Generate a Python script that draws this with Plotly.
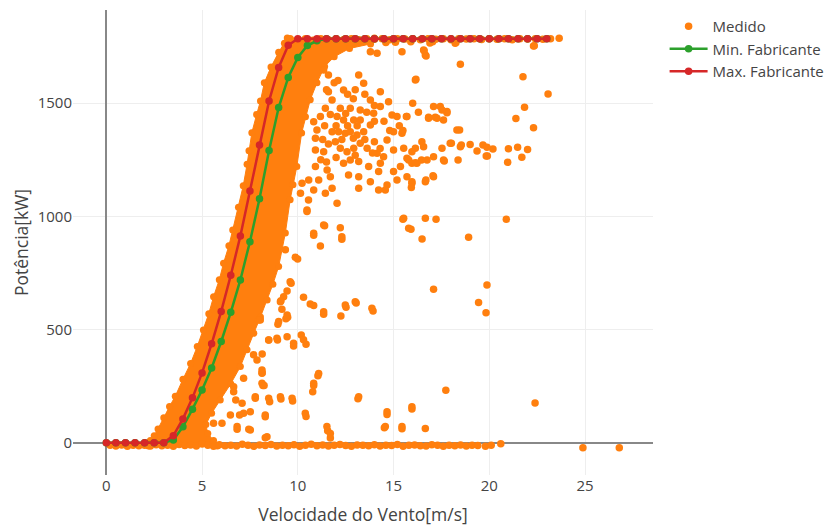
import plotly.graph_objects as go

# ---------------- data ----------------
# manufacturer curves (0.5 m/s steps, 0 .. 23 m/s)
wind_curve = [i * 0.5 for i in range(47)]
power_max = [0, 0, 0, 0, 0, 0, 0, 31, 105, 198, 308, 437, 580, 740, 913, 1112,
             1315, 1510, 1658, 1756, 1785] + [1785] * 26
power_min = [0, 0, 0, 0, 0, 0, 0, 12, 70, 148, 233, 330, 447, 576, 719, 888,
             1078, 1291, 1481, 1614, 1702, 1755, 1776] + [1785] * 24

# outline of the dense band of measured points (wind m/s, power kW)
band_wind = [2.2, 2.3, 2.5, 2.7, 3.0, 3.3, 3.6, 4.0, 4.4, 4.75, 5.07, 5.35, 5.6, 5.9,
             6.12, 6.4, 6.6, 6.9, 7.15, 7.35, 7.45, 7.6, 7.85, 8.05, 8.25, 8.6, 9.0,
             9.3, 9.45,
             14.0, 13.8, 12.7, 11.9, 11.4, 11.0, 10.65, 10.4, 10.2, 9.95, 9.75, 9.6,
             9.35, 9.0, 8.7, 8.4, 8.05, 7.7, 7.35, 7.0, 6.5, 5.95, 5.5, 5.2, 5.3,
             5.6, 5.8]
band_power = [-15, 10, 30, 60, 110, 160, 205, 280, 350, 425, 498, 570, 645, 720,
              793, 870, 940, 1040, 1135, 1230, 1290, 1370, 1450, 1510, 1590, 1660,
              1725, 1765, 1788,
              1788, 1762, 1742, 1705, 1662, 1590, 1515, 1440, 1368, 1220, 1140,
              1073, 926, 778, 700, 630, 555, 483, 410, 336, 260, 189, 130, 80, 40,
              10, -15]

# individual measured points outside the dense band
wind_pts = [
    # cluster above 1000 kW
    11.35, 11.6, 13.18, 13.44, 13.79, 14.14, 15.44, 16.57, 16.66, 16.14, 11.6, 12.39,
    11.79, 11.44, 11.18, 10.83, 12.22, 12.74, 13.26, 13.79, 14.31, 14.74, 14.31, 13.96,
    14.92, 15.18, 15.7, 17.09, 17.44, 17.79, 16.83, 17.27, 17.61, 18.31, 17.96, 17.53,
    17.09, 16.75, 16.57, 16.14, 15.96, 15.7, 15.96, 16.22, 17.09, 16.66, 15.53, 15.44,
    15.0, 14.66, 15.0, 14.48, 14.14, 13.62, 13.26, 12.92, 12.57, 12.22, 11.96, 11.79,
    12.13, 12.48, 12.74, 13.09, 13.44, 13.79, 12.39, 12.05, 12.92, 13.26, 11.0, 10.92,
    10.92, 11.35, 10.92, 11.53, 11.7, 11.09, 10.57, 10.22, 10.83, 11.44, 12.05, 10.56,
    10.48, 10.14, 12.39, 12.65, 13.18, 13.18, 13.7, 14.31, 14.22, 15.0, 15.18, 14.66,
    14.57, 14.22, 15.7, 15.96, 13.79, 13.18, 11.79, 12.74,
    11.5, 11.9, 12.1, 12.6, 12.9, 13.0, 13.5, 11.7, 12.5, 13.6, 14.0, 13.1, 12.6, 12.0,
    11.4, 11.3, 11.6, 12.3, 12.9, 13.5, 14.0, 14.3, 13.9, 13.0, 12.0, 11.5, 11.2, 14.5,
    14.0, 15.3, 14.8, 16.3, 16.0,
    # right-hand points
    18.22, 18.49, 22.31, 21.76, 23.07, 17.79, 18.45, 21.84, 21.39, 22.31, 18.02, 18.49,
    19.0, 19.36, 19.67, 20.19, 19.88, 19.84, 21.0, 21.48, 22.0, 21.7, 20.96, 17.65,
    18.37, 20.89, 17.53, 16.83, 17.18, 15.67, 15.49, 16.48, 18.54, 19.9, 17.61, 16.46,
    15.79, 16.14, 15.36, 15.96, 16.69, 17.06, 15.93, 16.17, 16.6, 16.7, 18.26, 17.04,
    22.35,
    # middle and lower points
    10.48, 11.4, 12.22, 12.3, 10.83, 11.18, 9.35, 9.99, 15.49, 16.66, 17.22, 15.91,
    16.49, 17.09, 9.65, 9.44, 9.26, 9.12, 9.17, 9.47, 9.38, 8.96, 10.3, 10.65, 10.83,
    11.35, 12.25, 12.52, 13.05, 13.93, 10.18, 10.3, 10.43, 9.44, 8.94, 8.48, 9.78, 8.14,
    8.14, 8.18, 11.05, 10.83, 10.78, 8.53, 9.12, 9.73, 13.14, 17.73, 8.3, 10.43, 11.56,
    11.7, 14.66, 15.96, 14.52, 15.44, 16.66, 8.3,
    18.92, 19.88, 19.44, 19.83, 22.39, 24.89, 26.79,
    9.6, 9.0, 9.44, 8.91, 7.95, 9.78, 7.87, 8.13, 8.13, 8.48, 7.78, 7.17, 6.65, 6.76,
    7.17, 6.83, 8.3, 7.52, 9.09, 9.7, 10.39, 10.83, 11.09, 11.52, 11.7, 13.18, 14.66,
    14.57, 15.44, 15.96, 15.53, 15.79, 10.83, 11.35, 12.3, 9.87, 11.35, 12.48, 13.0,
    13.87,
    9.09, 8.04, 8.48, 7.69, 8.13, 8.24, 6.65, 7.09, 7.78, 7.52, 6.48, 6.96, 6.04, 6.83,
    7.44, 8.39, 5.6,
]
power_pts = [
    1647, 1625, 1625, 1588, 1728, 1721, 1728, 1735, 1713, 1603, 1551, 1559,
    1514, 1478, 1441, 1418, 1478, 1478, 1470, 1514, 1551, 1507, 1485, 1456,
    1448, 1441, 1441, 1485, 1485, 1463, 1434, 1434, 1426, 1382, 1323, 1301,
    1264, 1249, 1308, 1301, 1286, 1257, 1235, 1235, 1175, 1153, 1301, 1367,
    1374, 1338, 1293, 1264, 1279, 1301, 1323, 1301, 1286, 1301, 1330, 1374,
    1374, 1367, 1374, 1360, 1374, 1404, 1426, 1441, 1426, 1426, 1382, 1345,
    1293, 1286, 1220, 1205, 1175, 1161, 1161, 1146, 1117, 1102, 1058, 1072,
    1028, 1102, 1235, 1183, 1175, 1242, 1220, 1235, 1198, 1198, 1161, 1139,
    1117, 1117, 1175, 1146, 1153, 1124, 1124, 1249,
    1560, 1590, 1600, 1540, 1520, 1560, 1540, 1450, 1455, 1460, 1490, 1400, 1400, 1400,
    1400, 1340, 1320, 1340, 1345, 1340, 1330, 1300, 1280, 1270, 1260, 1240, 1250, 1420,
    1420, 1400, 1380, 1460, 1500,
    1765, 1672, 1753, 1617, 1541, 1458, 1382, 1482, 1432, 1392, 1323, 1308,
    1318, 1289, 1315, 1298, 1305, 1267, 1299, 1305, 1296, 1261, 1239, 1245,
    1249, 987, 1470, 1438, 1438, 1441, 1379, 1330, 1315, 1267, 1249, 1249,
    1249, 1237, 1220, 1153, 1161, 1180, 1128, 1606, 1732, 1709, 1768, 1772,
    1754,
    1021, 958, 950, 899, 916, 869, 852, 812, 987, 992, 987, 943,
    900, 678, 704, 670, 645, 627, 589, 554, 547, 523, 643, 613, 606,
    567, 560, 598, 617, 582, 476, 455, 435, 468, 454, 454, 427, 392,
    309, 252, 296, 252, 225, 181, 193, 184, 194, 231, 114, 115, 53,
    21, 124, 149, 66, 61, 62, 22,
    908, 697, 619, 574, 175, -23, -23,
    711, 535, 564, 461, 542, 439, 365, 321, 262, 196, 203, 285, 225, 189,
    130, 71, 122, 56, 203, 196, 130, 262, 306, 71, 40, 203, 137,
    71, 71, 159, 992, 947, 925, 962, 910, 819, 579, 608, 623,
    594,
    623, 542, 454, 388, 307, 252, 247, 174, 196, 137, 122, 122, 86, 59,
    59, 26, 86,
]

# row of measured points at (almost) zero power
wind_zero = [0.2, 0.5, 0.8, 1.1, 1.4, 1.7, 2.0, 2.3, 2.6, 2.9, 3.2, 3.5, 3.8, 4.1, 4.4,
             4.7, 5.0, 5.3, 5.6, 5.9, 6.2, 6.5, 6.8, 7.1, 7.4, 7.7, 8.0, 8.3, 8.6, 8.9,
             9.2, 9.5, 9.8, 10.1, 10.4, 10.7, 11.0, 11.3, 11.6, 11.9, 12.2, 12.5, 12.8,
             13.1, 13.4, 13.7, 14.0, 14.3, 14.6, 14.9, 15.2, 15.5, 15.8, 16.1, 16.4,
             16.7, 17.0, 17.3, 17.6, 17.9, 18.2, 18.5, 18.8, 19.1, 19.4, 19.8, 20.1,
             20.6]
power_zero = [-12, -15, -10, -16, -12, -14, -11, -15, -9, -14, -12, -16, -8, -13, -10,
              -15, -6, -12, -16, -9, -14, -11, -15, -7, -12, -16, -10, -13, -8, -15,
              -11, -14, -9, -16, -12, -7, -14, -10, -15, -12, -8, -13, -16, -10, -12,
              -14, -9, -15, -11, -13, -8, -16, -12, -10, -14, -15, -9, -12, -16, -11,
              -14, -10, -15, -12, -13, -16, -12, -5]

# row of measured points at rated power
wind_top = [9.6, 10.0, 10.4, 10.8, 11.2, 11.6, 12.0, 12.4, 12.8, 13.2, 13.6, 14.0, 14.4,
            14.8, 15.2, 15.6, 16.0, 16.4, 16.8, 17.2, 17.6, 18.0, 18.4, 18.8, 19.2,
            19.6, 20.0, 20.4, 20.8, 21.2, 21.6, 22.0, 22.4, 22.8, 23.2, 23.65,
            14.6, 15.1, 15.9, 16.9]
power_top = [1785, 1780, 1785, 1778, 1785, 1780, 1785, 1782, 1785, 1780, 1785, 1783,
             1785, 1780, 1785, 1784, 1785, 1781, 1785, 1783, 1785, 1780, 1785, 1784,
             1785, 1782, 1785, 1783, 1785, 1781, 1785, 1784, 1785, 1783, 1785, 1787,
             1768, 1770, 1772, 1766]

ORANGE = "#ff7f0e"
GREEN = "#2ca02c"
RED = "#d62728"

fig = go.Figure()

# dense band of measured points
fig.add_trace(go.Scatter(
    x=band_wind, y=band_power, mode="lines+markers", fill="toself",
    fillcolor=ORANGE, line=dict(color=ORANGE, width=1),
    marker=dict(color=ORANGE, size=7), showlegend=False,
    hoverinfo="skip"))

all_w = wind_zero + wind_top + wind_pts
all_p = power_zero + power_top + power_pts
fig.add_trace(go.Scatter(
    x=all_w, y=all_p, mode="markers", name="Medido",
    marker=dict(color=ORANGE, size=7.5)))

fig.add_trace(go.Scatter(
    x=wind_curve, y=power_min, mode="lines+markers", name="Min. Fabricante",
    line=dict(color=GREEN, width=2.5), marker=dict(color=GREEN, size=7.5)))
fig.add_trace(go.Scatter(
    x=wind_curve, y=power_max, mode="lines+markers", name="Max. Fabricante",
    line=dict(color=RED, width=2.5), marker=dict(color=RED, size=7.5)))

fig.update_layout(
    template="none",
    width=829, height=526,
    margin=dict(l=73, r=176, t=10, b=51, pad=0, autoexpand=False),
    paper_bgcolor="white", plot_bgcolor="white",
    font=dict(family="Open Sans", size=15, color="#444"),
    legend=dict(x=1.02, y=1, font=dict(size=15), itemwidth=38),
    xaxis=dict(range=[-1.74, 28.55], dtick=5, gridcolor="#eee", zeroline=True,
               zerolinecolor="#888", zerolinewidth=1.8, showline=False, ticks="",
               tickfont=dict(size=15),
               title=dict(text="Velocidade do Vento[m/s]", font=dict(size=17.5))),
    yaxis=dict(range=[-143, 1912], dtick=500, gridcolor="#eee", zeroline=True,
               zerolinecolor="#888", zerolinewidth=1.8, showline=False, ticks="",
               tickfont=dict(size=15),
               title=dict(text="Potência[kW]", font=dict(size=17.5))),
)

fig.write_html("out.html")
